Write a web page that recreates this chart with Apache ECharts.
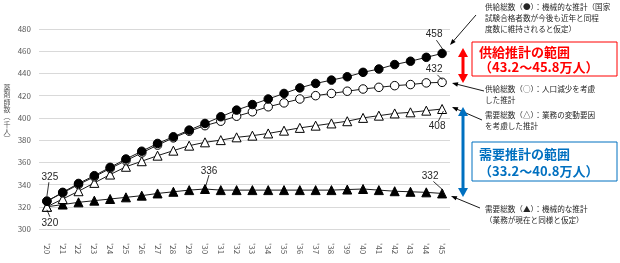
<!DOCTYPE html>
<html><head><meta charset="utf-8">
<script src="https://cdn.jsdelivr.net/npm/echarts@6/dist/echarts.min.js"></script>
<style>html,body{margin:0;padding:0;background:#fff}#c{width:620px;height:263px}</style>
</head><body><div id="c"></div>
<script>
const years = ["'20","'21","'22","'23","'24","'25","'26","'27","'28","'29","'30","'31","'32","'33","'34","'35","'36","'37","'38","'39","'40","'41","'42","'43","'44","'45"];
const supplyMech = [325,333,341,348,355.5,363,370,377,383,389,395,401,407,412,417,422,427,431,434,437,441,444,448,451,454.5,458];
const supplyPop  = [325,332.5,340,347,354.5,361.5,368.5,375.5,382,388,393,397,401.5,405.5,410,413.5,417,420,422,424,426,427.5,429,430,431.5,432];
const demandVar  = [320,327,334,341.5,349,356,361,366,370.5,375,378,380,382.5,384,386,388.5,391,393,395,397,400,402,404,405,406.5,408];
const demandMech = [320,322,324,325.5,327,328.5,330,332,333.5,335,336,335,335,335,335,335,335,335,335,335.5,336,335,334,333.5,333,332];
const yMin = 300, yMax = 480, yStep = 20;
const yName = "薬剤師数︵千人︶";
const valueLabels = [
  {series: supplyMech, idx: 0, text: "325"},
  {series: demandMech, idx: 0, text: "320"},
  {series: demandMech, idx: 10, text: "336"},
  {series: supplyMech, idx: 25, text: "458"},
  {series: supplyPop, idx: 25, text: "432"},
  {series: demandVar, idx: 25, text: "408"},
  {series: demandMech, idx: 25, text: "332"}
];
const noteTexts = [
  "供給総数（●）：機械的な推計（国家\n試験合格者数が今後も近年と同程\n度数に維持されると仮定）",
  "供給総数（○）：人口減少を考慮\nした推計",
  "需要総数（△）：業務の変動要因\nを考慮した推計",
  "需要総数（▲）：機械的な推計\n（業務が現在と同様と仮定）"
];
const supplyRange = ["供給推計の範囲", "（43.2～45.8万人）"];
const demandRange = ["需要推計の範囲", "（33.2～40.8万人）"];

const chart = echarts.init(document.getElementById('c'), null, {renderer: 'canvas'});
const FONT = "'Noto Sans CJK JP', 'Noto Sans', sans-serif";
function mk(name, data, symbol, filled) {
  return {
    name, type: 'line', data, symbol, symbolSize: symbol === 'circle' ? 8.5 : 9,
    showAllSymbol: true, animation: false,
    lineStyle: {color: '#1a1a1a', width: 1},
    itemStyle: {color: filled ? '#000' : '#fff', borderColor: '#000', borderWidth: 1},
    z: 2
  };
}
chart.setOption({
  backgroundColor: '#fff',
  animation: false,
  grid: {left: 39, right: 170, top: 29, bottom: 34},
  xAxis: {
    type: 'category', data: years, boundaryGap: true,
    axisLine: {show: false}, axisTick: {show: false},
    axisLabel: {rotate: -90, fontSize: 8, color: '#595959', margin: 14, fontFamily: FONT, interval: 0}
  },
  yAxis: {
    type: 'value', min: yMin, max: yMax, interval: yStep,
    axisLine: {show: false}, axisTick: {show: false},
    splitLine: {lineStyle: {color: '#D9D9D9', width: 1}},
    axisLabel: {fontSize: 8, color: '#595959', margin: 8, fontFamily: FONT}
  },
  series: [
    mk('demandMech', demandMech, 'triangle', true),
    mk('demandVar', demandVar, 'triangle', false),
    mk('supplyPop', supplyPop, 'circle', false),
    mk('supplyMech', supplyMech, 'circle', true)
  ]
});

const P = (i, v) => chart.convertToPixel({xAxisIndex: 0, yAxisIndex: 0}, [i, v]);
const g = [];
const lab = [
  [3, -24, [0, -5], [2, -19]],
  [3, 16, [0, 3], [3, 10]],
  [4, -18, [0.7, -2.6], [4, -14]],
  [-8, -19, [1.3, -3.3], [-5.7, -13.3]],
  [-8, -13, [0.3, -2.5], [-4.7, -7.5]],
  [-5, 17, [1.3, 2], [-3.7, 12]],
  [-12, -17, [1.3, -3], [-8.7, -12]]
];
valueLabels.forEach((vl, k) => {
  const p = P(vl.idx, vl.series[vl.idx]);
  const L = lab[k];
  g.push({type: 'text', x: p[0] + L[0], y: p[1] + L[1], z: 10,
    style: {text: vl.text, fontSize: 10, fill: '#262626', fontFamily: "'Liberation Sans', sans-serif", align: 'center', verticalAlign: 'middle'}});
  g.push({type: 'line', z: 10, shape: {x1: p[0] + L[2][0], y1: p[1] + L[2][1], x2: p[0] + L[3][0], y2: p[1] + L[3][1]},
    style: {stroke: '#000', lineWidth: 0.8}});
});
g.push({type: 'text', x: 7, y: 113, style: {text: yName.split('').join('\n'), fontSize: 7, lineHeight: 7.3, fill: '#595959', fontFamily: FONT, align: 'center', verticalAlign: 'middle'}});

function arrowHead(x1, y1, x2, y2, len, wid, color) {
  const a = Math.atan2(y2 - y1, x2 - x1);
  const bx = x2 - len * Math.cos(a), by = y2 - len * Math.sin(a);
  const nx = -Math.sin(a) * wid / 2, ny = Math.cos(a) * wid / 2;
  return {type: 'polygon', z: 10, shape: {points: [[x2, y2], [bx + nx, by + ny], [bx - nx, by - ny]]}, style: {fill: color}};
}
function arrow(x1, y1, x2, y2, color, w, len, wid, both) {
  const a = Math.atan2(y2 - y1, x2 - x1);
  const sx = both ? x1 + len * 0.8 * Math.cos(a) : x1, sy = both ? y1 + len * 0.8 * Math.sin(a) : y1;
  const ex = x2 - len * 0.8 * Math.cos(a), ey = y2 - len * 0.8 * Math.sin(a);
  g.push({type: 'line', z: 10, shape: {x1: sx, y1: sy, x2: ex, y2: ey}, style: {stroke: color, lineWidth: w}});
  g.push(arrowHead(x1, y1, x2, y2, len, wid, color));
  if (both) g.push(arrowHead(x2, y2, x1, y1, len, wid, color));
}
arrow(476, 15, 450, 45, '#000', 0.9, 6, 4.5, false);
arrow(484, 91, 452, 83, '#000', 0.9, 6, 4.5, false);
arrow(482, 120, 452, 107, '#000', 0.9, 6, 4.5, false);
arrow(480, 208, 451, 196, '#000', 0.9, 6, 4.5, false);
arrow(463, 48, 463, 83, '#FF0000', 3, 9, 10, true);
arrow(463, 107, 463, 197, '#0070C0', 3, 9, 10, true);

const noteY = [7, 89, 115, 209];
noteTexts.forEach((t, i) => {
  g.push({type: 'text', x: 485, y: noteY[i] - 5, style: {text: t, fontSize: 7.6, lineHeight: 11, fill: '#262626', fontFamily: FONT, align: 'left', verticalAlign: 'top'}});
});
function box(y, h, color, lines) {
  g.push({type: 'rect', z: 9, shape: {x: 472, y: y, width: 145, height: h}, style: {fill: '#fff', stroke: color, lineWidth: 1}});
  g.push({type: 'text', z: 10, x: 479, y: y + h * 0.3, style: {text: lines[0], fontSize: 13, fontWeight: 'bold', fill: color, fontFamily: FONT, verticalAlign: 'middle'}});
  g.push({type: 'text', z: 10, x: 479, y: y + h * 0.74, style: {text: lines[1], fontSize: 13, fontWeight: 'bold', fill: color, fontFamily: FONT, verticalAlign: 'middle'}});
}
box(42, 34, '#FF0000', supplyRange);
box(142, 39, '#0070C0', demandRange);

chart.setOption({graphic: g});
</script></body></html>
